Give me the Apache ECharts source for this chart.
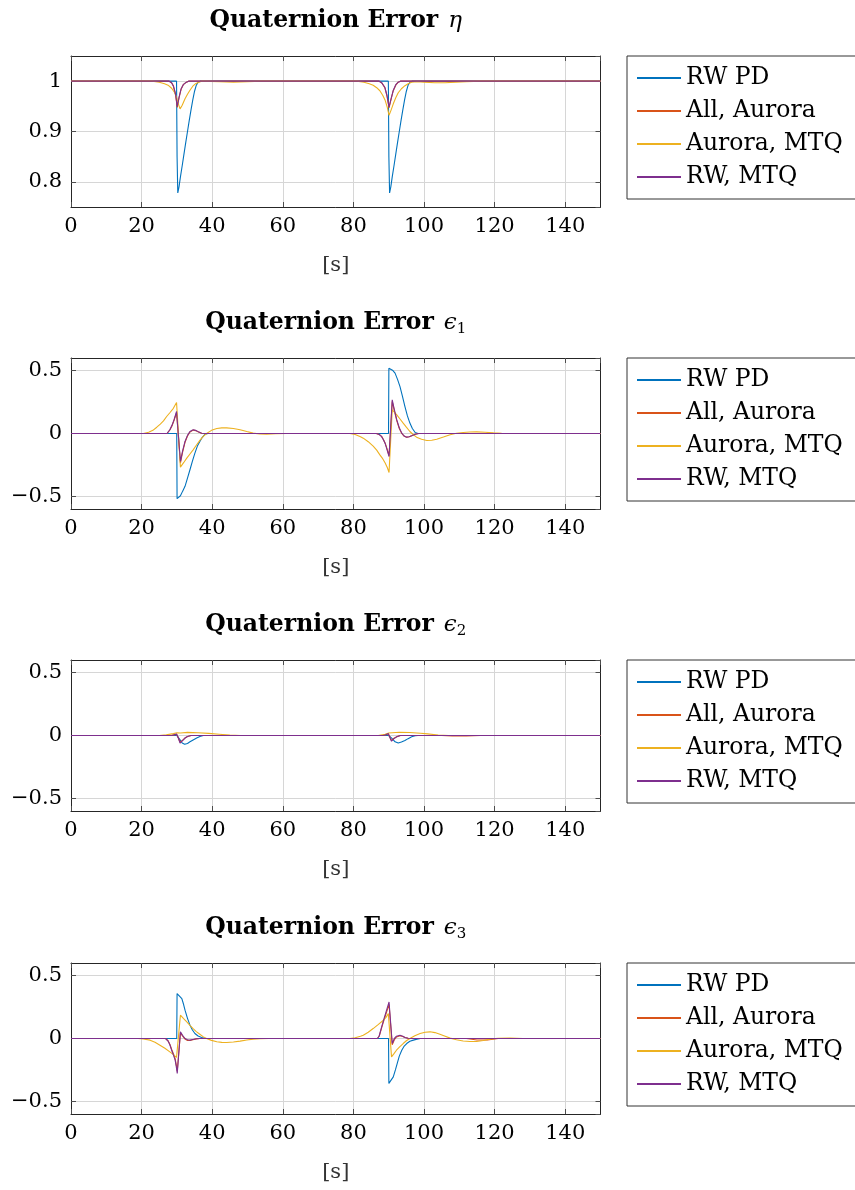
<!DOCTYPE html>
<html>
<head>
<meta charset="utf-8">
<script src="https://cdn.jsdelivr.net/npm/echarts@6/dist/echarts.min.js"></script>
<style>html,body{margin:0;padding:0;background:#fff}#c{width:855px;height:1190px}</style>
</head>
<body>
<div id="c"></div>
<script>
// ---------- data ----------
const seriesNames = ['RW PD', 'All, Aurora', 'Aurora, MTQ', 'RW, MTQ'];
const titles = ['{b|Quaternion Error}   {m|η}', '{b|Quaternion Error}   {m|ϵ}{s|1}', '{b|Quaternion Error}   {m|ϵ}{s|2}', '{b|Quaternion Error}   {m|ϵ}{s|3}'];
const xTicks = [0, 20, 40, 60, 80, 100, 120, 140];
const xLabel = '[s]';

// Plot 1: eta
const etaRwPd = [[0,1],[29.9,1],[30.05,0.85],[30.25,0.778],[30.6,0.79],[31,0.81],[31.5,0.832],[32,0.855],[32.5,0.878],[33,0.9],[33.5,0.922],[34,0.943],[34.5,0.963],[35,0.98],[35.5,0.992],[36,0.998],[36.6,1],
  [89.9,1],[90.05,0.85],[90.25,0.778],[90.6,0.79],[91,0.81],[91.5,0.832],[92,0.855],[92.5,0.878],[93,0.9],[93.5,0.922],[94,0.943],[94.5,0.963],[95,0.98],[95.5,0.992],[96,0.998],[96.6,1],[150,1]];
const etaAllAurora = [[0,1],[27.8,1],[28.5,0.997],[29,0.99],[29.6,0.974],[30.1,0.948],[30.6,0.967],[31.2,0.984],[31.8,0.993],[32.7,0.998],[33.3,1],
  [87.3,1],[88,0.997],[88.9,0.987],[89.5,0.971],[90.1,0.947],[90.7,0.965],[91.3,0.981],[92,0.992],[92.7,0.998],[93.3,1],[150,1]];
const etaAuroraMtq = [[0,1],[23,1],[25,0.998],[26.5,0.995],[27.5,0.992],[28.5,0.986],[29.3,0.978],[30,0.966],[30.5,0.953],[30.9,0.945],[31.5,0.952],[32.3,0.965],[33,0.974],[33.7,0.982],[34.5,0.99],[35.3,0.995],[36.2,0.998],[37,1],[42,0.999],[46,0.998],[50,0.999],[54,1],
  [81,1],[83,0.998],[84.5,0.995],[85.6,0.992],[86.6,0.987],[87.5,0.981],[88.3,0.972],[89,0.962],[89.6,0.948],[90.1,0.932],[90.7,0.943],[91.3,0.955],[92,0.967],[92.7,0.977],[93.6,0.985],[94.6,0.991],[95.5,0.995],[96.5,0.998],[98,0.999],[100,0.998],[103,0.997],[106,0.997],[109,0.998],[112,0.999],[116,1],[150,1]];
const etaRwMtq = [[0,1],[27.8,1],[28.5,0.997],[29,0.991],[29.6,0.975],[30.1,0.95],[30.6,0.968],[31.2,0.985],[31.8,0.993],[32.7,0.998],[33.3,1],
  [87.3,1],[88,0.997],[88.9,0.988],[89.5,0.972],[90.1,0.949],[90.7,0.966],[91.3,0.982],[92,0.993],[92.7,0.998],[93.3,1],[150,1]];

// Plot 2: eps1
const e1RwPd = [[0,0],[29.95,0],[30.05,-0.518],[30.5,-0.51],[31,-0.495],[31.6,-0.46],[32.3,-0.42],[33,-0.355],[33.7,-0.288],[34.4,-0.22],[35.1,-0.156],[35.8,-0.1],[36.5,-0.063],[37.2,-0.03],[38,-0.005],[38.8,0],
  [89.95,0],[90.05,0.519],[90.6,0.515],[91.2,0.5],[91.8,0.48],[92.5,0.43],[93.2,0.373],[93.9,0.295],[94.6,0.214],[95.3,0.14],[96,0.083],[96.7,0.04],[97.5,0.008],[98.3,0],[150,0]];
const e1AllAurora = [[0,0],[27.2,0],[28,0.028],[28.6,0.06],[29.2,0.105],[29.9,0.165],[31,-0.235],[31.6,-0.15],[32.3,-0.07],[33,-0.02],[33.7,0.012],[34.6,0.027],[35.3,0.023],[36.1,0.012],[37,0.002],[38,0],
  [86.5,0],[87.3,-0.007],[88,-0.023],[88.5,-0.047],[89,-0.077],[89.4,-0.11],[90.1,-0.175],[91,0.255],[91.6,0.18],[92.3,0.1],[93,0.04],[93.7,0],[94.4,-0.022],[95.1,-0.03],[95.8,-0.026],[96.5,-0.018],[97.5,-0.006],[98.5,0],[150,0]];
const e1AuroraMtq = [[0,0],[20.5,0],[22,0.01],[23.2,0.025],[24.3,0.05],[25.3,0.075],[26.2,0.1],[27.1,0.135],[28,0.165],[29,0.2],[29.9,0.246],[31,-0.267],[31.9,-0.232],[32.8,-0.196],[33.7,-0.163],[34.6,-0.13],[35.5,-0.093],[36.5,-0.055],[37.4,-0.025],[38.4,0],[39.8,0.025],[41.3,0.04],[42.7,0.045],[44.1,0.045],[46,0.04],[47.9,0.03],[49.8,0.016],[51.6,0.003],[53.5,-0.004],[55.4,-0.005],[58,-0.002],[61,0],
  [79,0],[80.5,-0.008],[82,-0.025],[82.8,-0.037],[84.2,-0.065],[85.6,-0.1],[86.6,-0.132],[87.5,-0.17],[88.3,-0.2],[89,-0.235],[89.6,-0.27],[90.1,-0.31],[91,0.188],[91.6,0.17],[92.3,0.148],[93.2,0.115],[94.1,0.082],[95,0.05],[96,0.016],[97,-0.01],[97.9,-0.029],[99.3,-0.046],[100.8,-0.056],[102.2,-0.054],[103.6,-0.045],[105.5,-0.028],[107.4,-0.01],[109.2,0.002],[111.1,0.008],[113,0.012],[114.9,0.013],[117.3,0.01],[119.7,0.005],[122,0.001],[125,0],[150,0]];
const e1RwMtq = [[0,0],[27.2,0],[28,0.03],[28.6,0.065],[29.2,0.11],[29.9,0.175],[31,-0.222],[31.6,-0.14],[32.3,-0.063],[33,-0.015],[33.7,0.016],[34.6,0.03],[35.3,0.025],[36.1,0.013],[37,0.002],[38,0],
  [86.5,0],[87.3,-0.008],[88,-0.025],[88.5,-0.05],[89,-0.08],[89.4,-0.116],[90.1,-0.183],[91,0.267],[91.6,0.19],[92.3,0.108],[93,0.045],[93.7,0.003],[94.4,-0.02],[95.1,-0.029],[95.8,-0.026],[96.5,-0.018],[97.5,-0.006],[98.5,0],[150,0]];

// Plot 3: eps2
const e2RwPd = [[0,0],[30,0],[30.4,-0.01],[30.9,-0.035],[31.5,-0.06],[32.2,-0.07],[33,-0.063],[33.7,-0.05],[34.6,-0.035],[35.6,-0.02],[36.5,-0.008],[37.5,0],
  [90,0],[90.4,-0.005],[91,-0.025],[91.8,-0.05],[92.7,-0.06],[93.6,-0.052],[94.6,-0.04],[95.5,-0.025],[96.5,-0.01],[97.5,-0.002],[98.3,0],[150,0]];
const e2AllAurora = [[0,0],[28.5,0],[29.2,0.005],[29.9,0.01],[30.4,-0.018],[30.9,-0.055],[31.6,-0.038],[32.3,-0.02],[33,-0.008],[34,0],
  [88.5,0],[89.3,0.007],[89.9,0.013],[90.4,-0.018],[90.8,-0.04],[91.5,-0.022],[92.3,-0.009],[93.3,0],[105,0],[108,-0.004],[112,-0.004],[116,0],[150,0]];
const e2AuroraMtq = [[0,0],[25,0],[27,0.005],[29,0.015],[30,0.022],[30.5,0.01],[31,0.02],[33,0.025],[36,0.022],[39,0.017],[42,0.01],[45,0.003],[48,0],
  [87,0],[89,0.01],[90,0.02],[90.5,0.008],[91,0.022],[93,0.026],[96,0.024],[99,0.018],[101,0.013],[104,0.004],[107,0],[150,0]];
const e2RwMtq = [[0,0],[28.5,0],[29.2,0.005],[29.9,0.012],[30.4,-0.02],[30.9,-0.06],[31.6,-0.04],[32.3,-0.02],[33,-0.008],[34,0],
  [88.5,0],[89.3,0.008],[89.9,0.015],[90.4,-0.02],[90.8,-0.045],[91.5,-0.025],[92.3,-0.01],[93.3,0],[150,0]];

// Plot 4: eps3
const e3RwPd = [[0,0],[29.95,0],[30.05,0.357],[30.6,0.345],[31.4,0.317],[31.9,0.27],[32.3,0.225],[33,0.16],[33.7,0.106],[34.4,0.068],[35.1,0.04],[36,0.02],[37,0.008],[38,0.002],[39,0],
  [89.95,0],[90.05,-0.357],[90.6,-0.35],[91.3,-0.305],[91.9,-0.25],[92.4,-0.2],[93,-0.14],[93.7,-0.093],[94.4,-0.06],[95.1,-0.04],[96,-0.022],[97,-0.013],[98,-0.005],[99,0],[150,0]];
const e3AllAurora = [[0,0],[26.8,0],[27.5,-0.018],[28,-0.045],[28.5,-0.085],[29,-0.12],[29.5,-0.16],[29.8,-0.205],[30.1,-0.26],[31,0.045],[31.6,0.02],[32.3,-0.005],[33,-0.015],[33.7,-0.016],[34.5,-0.01],[35.5,-0.003],[36.5,0],
  [86.8,0],[87.3,0.018],[88,0.085],[88.7,0.15],[89.4,0.21],[90.1,0.27],[91,-0.05],[91.6,-0.01],[92.2,0.012],[93.2,0.022],[94,0.016],[94.6,0.008],[95.5,0.002],[96.5,0],[112,0],[115,-0.012],[118,-0.012],[121,0],[150,0]];
const e3AuroraMtq = [[0,0],[19,0],[20.5,-0.004],[22.4,-0.013],[23.8,-0.03],[25.2,-0.053],[26.6,-0.078],[28,-0.106],[29,-0.128],[29.9,-0.15],[31,0.185],[31.9,0.158],[32.8,0.132],[33.7,0.105],[34.6,0.079],[35.5,0.055],[36.5,0.034],[37.4,0.015],[38.4,0],[39.8,-0.015],[41.3,-0.026],[42.7,-0.031],[44.1,-0.032],[46,-0.028],[47.9,-0.021],[49.8,-0.012],[51.6,-0.005],[53.5,-0.001],[56,0],
  [79,0],[80.5,0.006],[82,0.018],[82.8,0.026],[84.2,0.05],[85.6,0.079],[87,0.11],[88.5,0.145],[89.3,0.17],[89.9,0.198],[90.8,-0.146],[91.5,-0.12],[92.2,-0.093],[93.1,-0.066],[94.1,-0.04],[95,-0.018],[96,0],[97.4,0.022],[98.9,0.04],[100.3,0.05],[101.7,0.053],[103.1,0.047],[104.5,0.034],[106,0.018],[107.4,0.003],[109.2,-0.01],[111.1,-0.02],[113,-0.024],[114.9,-0.024],[116.8,-0.016],[118.6,-0.005],[121,0.002],[124.3,0.003],[128,0],[150,0]];
const e3RwMtq = [[0,0],[26.8,0],[27.5,-0.02],[28,-0.05],[28.5,-0.093],[29,-0.13],[29.5,-0.172],[29.8,-0.22],[30.1,-0.278],[31,0.053],[31.6,0.025],[32.3,0],[33,-0.01],[33.7,-0.013],[34.5,-0.008],[35.5,-0.002],[36.5,0],
  [86.8,0],[87.3,0.02],[88,0.093],[88.7,0.16],[89.4,0.225],[90.1,0.29],[91,-0.04],[91.6,0],[92.2,0.018],[93.2,0.026],[94,0.018],[94.6,0.008],[95.5,0.002],[96.5,0],[150,0]];

const plotData = [
  [etaRwPd, etaAllAurora, etaAuroraMtq, etaRwMtq],
  [e1RwPd, e1AllAurora, e1AuroraMtq, e1RwMtq],
  [e2RwPd, e2AllAurora, e2AuroraMtq, e2RwMtq],
  [e3RwPd, e3AllAurora, e3AuroraMtq, e3RwMtq]
];
const yRanges = [[0.75, 1.05, 0.1], [-0.6, 0.6, 0.5], [-0.6, 0.6, 0.5], [-0.6, 0.6, 0.5]];

// ---------- layout / style ----------
const FONT = '"DejaVu Serif", "Liberation Serif", serif';
const colors = ['#0072BD', '#D95319', '#EDB120', '#7E2F8E'];
const gridTops = [56, 358, 660, 963];
const GL = 71, GW = 529.5, GH = 151;
const axisColor = '#262626', tickColor = '#4d4d4d', gridColor = '#d6d6d6';

const grids = [], xAxes = [], yAxes = [], series = [], legends = [], graphics = [];
gridTops.forEach((top, i) => {
  grids.push({ left: GL, top: top, width: GW, height: GH, containLabel: false });
  const common = { gridIndex: i, type: 'value', min: 0, max: 150, interval: 20 };
  xAxes.push(Object.assign({}, common, {
    position: 'bottom',
    axisLine: { show: true, onZero: false, lineStyle: { color: axisColor, width: 1 } },
    axisTick: { show: true, inside: true, length: 5, lineStyle: { color: tickColor } },
    axisLabel: { show: true, fontSize: 21, fontFamily: FONT, color: '#000', margin: 9, showMaxLabel: false },
    splitLine: { show: true, lineStyle: { color: gridColor, width: 1 } },
    name: xLabel, nameLocation: 'middle', nameGap: 48,
    nameTextStyle: { fontSize: 21, fontFamily: FONT, color: '#333' }
  }));
  xAxes.push(Object.assign({}, common, {
    position: 'top',
    axisLine: { show: true, onZero: false, lineStyle: { color: axisColor, width: 1 } },
    axisTick: { show: true, inside: true, length: 5, lineStyle: { color: tickColor } },
    axisLabel: { show: false }, splitLine: { show: false }
  }));
  const [ymin, ymax, yint] = yRanges[i];
  const ycommon = { gridIndex: i, type: 'value', min: ymin, max: ymax, splitNumber: yint === 0.1 ? 3 : 2, minInterval: yint, maxInterval: yint };
  yAxes.push(Object.assign({}, ycommon, {
    position: 'left',
    axisLine: { show: true, onZero: false, lineStyle: { color: axisColor, width: 1 } },
    axisTick: { show: true, inside: true, length: 5, lineStyle: { color: tickColor } },
    axisLabel: { show: true, fontSize: 21, fontFamily: FONT, color: '#000', margin: 9, showMinLabel: false, showMaxLabel: false,
      formatter: v => String(Math.round(v * 100) / 100).replace('-', '\u2212') },
    splitLine: { show: true, lineStyle: { color: gridColor, width: 1 } }
  }));
  yAxes.push(Object.assign({}, ycommon, {
    position: 'right',
    axisLine: { show: true, onZero: false, lineStyle: { color: axisColor, width: 1 } },
    axisTick: { show: true, inside: true, length: 5, lineStyle: { color: tickColor } },
    axisLabel: { show: false }, splitLine: { show: false }
  }));
  plotData[i].forEach((d, s) => {
    series.push({
      type: 'line', name: seriesNames[s], xAxisIndex: 2 * i, yAxisIndex: 2 * i,
      data: d, symbol: 'none', showSymbol: false, smooth: false,
      lineStyle: { color: colors[s], width: 1.1 }, itemStyle: { color: colors[s] },
      z: 2 + s, animation: false
    });
  });
  legends.push({
    show: true, orient: 'vertical', left: 627, top: top,
    data: seriesNames, icon: 'rect', itemWidth: 44, itemHeight: 2, itemGap: 9,
    padding: [10, 40, 10, 10],
    borderColor: '#333', borderWidth: 1, backgroundColor: '#fff',
    textStyle: { fontSize: 23.5, lineHeight: 24, fontFamily: FONT, color: '#000' },
    selectedMode: false
  });
  graphics.push({
    type: 'text', x: GL + GW / 2, y: top - 35,
    style: {
      text: titles[i], align: 'center', verticalAlign: 'middle',
      rich: {
        b: { fontFamily: FONT, fontWeight: 'bold', fontSize: 23.5, lineHeight: 28, fill: '#000', color: '#000' },
        m: { fontFamily: FONT, fontStyle: 'italic', fontSize: 23, lineHeight: 28, fill: '#000', color: '#000' },
        s: { fontFamily: FONT, fontSize: 15, lineHeight: 28, verticalAlign: 'bottom', padding: [9, 0, 0, 0], fill: '#000', color: '#000' }
      }
    }
  });
});

const chart = echarts.init(document.getElementById('c'), null, { renderer: 'canvas' });
chart.setOption({
  animation: false,
  backgroundColor: '#fff',
  grid: grids, xAxis: xAxes, yAxis: yAxes, series: series, legend: legends, graphic: graphics
});
</script>
</body>
</html>
